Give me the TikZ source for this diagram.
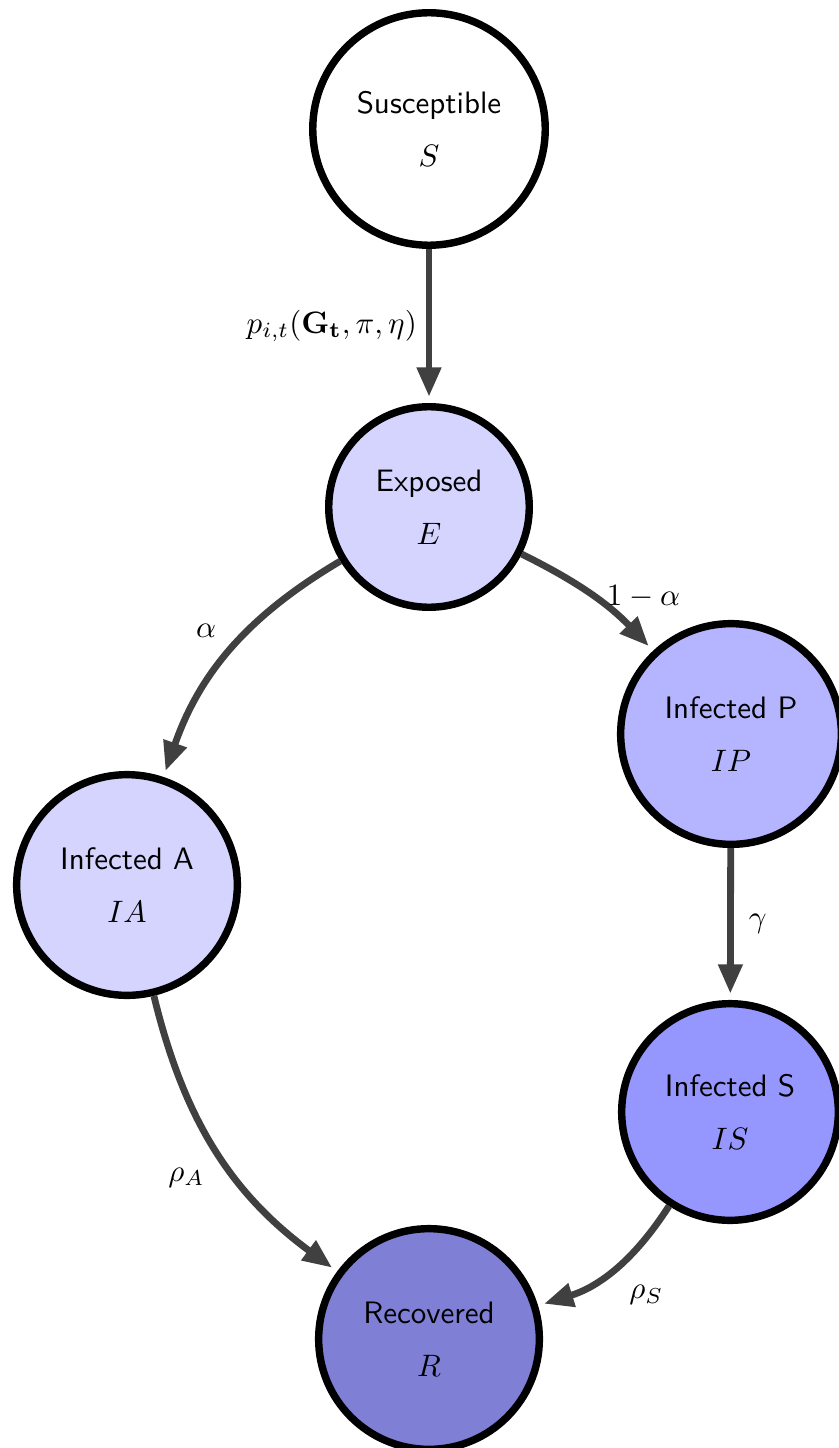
\documentclass[tikz,border=0pt]{standalone}
\usetikzlibrary{arrows.meta}
\definecolor{cE}{RGB}{212,212,255}
\definecolor{cIP}{RGB}{180,180,255}
\definecolor{cIS}{RGB}{150,150,255}
\definecolor{cR}{RGB}{127,127,214}
\definecolor{arrowgray}{RGB}{64,64,64}
\begin{document}
\begin{tikzpicture}[x=0.3226pt,y=-0.3226pt,
  state/.style={circle, draw=black, line width=2.4pt, font=\sffamily, align=center, inner sep=0pt},
  flow/.style={draw=arrowgray, line width=2.2pt, -{Triangle[length=9.5pt,width=7.5pt]}, shorten >=2pt},
  lbl/.style={text=black}]
\useasboundingbox (0,0) rectangle (838,1448);
\node[state, fill=white, minimum size=75pt] (S) at (429,129) {Susceptible\\[5pt]$S$};
\node[state, fill=cE, minimum size=64.7pt] (E) at (429,507) {Exposed\\[5pt]$E$};
\node[state, fill=cIP, minimum size=71.2pt] (IP) at (731,734) {Infected P\\[5pt]$IP$};
\node[state, fill=cE, minimum size=71.2pt] (IA) at (127,885) {Infected A\\[5pt]$IA$};
\node[state, fill=cIS, minimum size=69.9pt] (IS) at (730,1112) {Infected S\\[5pt]$IS$};
\node[state, fill=cR, minimum size=71.2pt] (R) at (429,1339) {Recovered\\[5pt]$R$};
\draw[flow] (S) -- node[lbl, left=-0.5pt] {$p_{i,t}(\mathbf{G_t},\pi,\eta)$} (E);
\draw[flow] (E) to[bend right=20] node[lbl, pos=0.38, left=8pt, xshift=1pt, yshift=-1pt] {$\alpha$} (IA);
\draw[flow] (E) to[bend left=10] node[lbl, pos=0.6, anchor=south west, inner sep=1pt, xshift=-1.3pt, yshift=-3.2pt] {$1-\alpha$} (IP);
\draw[flow] (IP) -- node[lbl, right=1.5pt] {$\gamma$} (IS);
\draw[flow] (IA) to[bend right=20] node[lbl, pos=0.6, left=7pt, xshift=1.2pt] {$\rho_A$} (R);
\draw[flow] (IS) to[bend left=20] node[lbl, pos=0.45, anchor=north west, xshift=-1.3pt, yshift=-2.5pt] {$\rho_S$} (R);
\end{tikzpicture}
\end{document}
